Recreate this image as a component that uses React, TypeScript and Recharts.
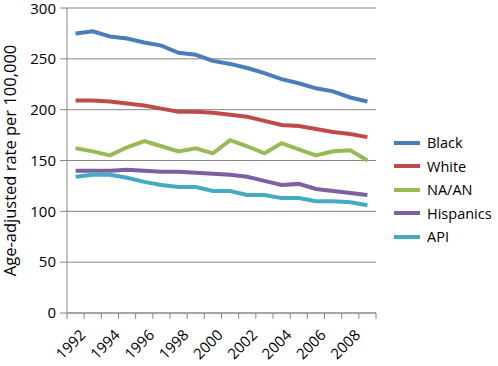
import React from 'react';
import { LineChart, Line, XAxis, YAxis, CartesianGrid, Legend } from 'recharts';

// ── Data ─────────────────────────────────────────────────────────────────────

const YEARS = [1992, 1993, 1994, 1995, 1996, 1997, 1998, 1999, 2000, 2001, 2002, 2003, 2004, 2005, 2006, 2007, 2008, 2009];
const BLACK = [275, 277, 272, 270, 266, 263, 256, 254, 248, 245, 241, 236, 230, 226, 221, 218, 212, 208];
const WHITE = [209, 209, 208, 206, 204, 201, 198, 198, 197, 195, 193, 189, 185, 184, 181, 178, 176, 173];
const NAAN = [162, 159, 155, 163, 169, 164, 159, 162, 157, 170, 164, 157, 167, 161, 155, 159, 160, 150];
const HISPANICS = [140, 140, 140, 141, 140, 139, 139, 138, 137, 136, 134, 130, 126, 127, 122, 120, 118, 116];
const API = [134, 136, 136, 133, 129, 126, 124, 124, 120, 120, 116, 116, 113, 113, 110, 110, 109, 106];

const Y_TICKS = [0, 50, 100, 150, 200, 250, 300];
const X_LABELS = [1992, 1994, 1996, 1998, 2000, 2002, 2004, 2006, 2008];

const SERIES = [
  { key: 'black', name: 'Black', color: '#4A7EBB' },
  { key: 'white', name: 'White', color: '#BE4B48' },
  { key: 'naan', name: 'NA/AN', color: '#98B954' },
  { key: 'hisp', name: 'Hispanics', color: '#7D60A0' },
  { key: 'api', name: 'API', color: '#46AAC5' },
];

const rows = YEARS.map((year, i) => ({
  year,
  black: BLACK[i],
  white: WHITE[i],
  naan: NAAN[i],
  hisp: HISPANICS[i],
  api: API[i],
}));

// category boundaries, for Excel-style tick marks between categories
const BOUNDS = [...YEARS.map((y) => y - 0.5), YEARS[YEARS.length - 1] + 0.5];
const X_DOMAIN: [number, number] = [BOUNDS[0], BOUNDS[BOUNDS.length - 1]];

const FONT = '"Open Sans", sans-serif';
const AXIS_GREY = '#868686';

// Ticks sit on category boundaries; the label of the year to the right of
// a boundary is drawn half a category further on, rotated like Excel does.
function YearTick({
  x,
  y,
  width,
  payload,
}: {
  x: number;
  y: number;
  width?: number;
  payload: { value: number };
}) {
  const year = payload.value + 0.5;
  if (!X_LABELS.includes(year)) return <g />;
  const half = (width ?? 309) / YEARS.length / 2;
  return (
    <g transform={`translate(${x + half + 11},${y + 17})`}>
      <text x={0} y={0} textAnchor="end" transform="rotate(-45)" fontSize={15} fontFamily={FONT} fill="#000">
        {year}
      </text>
    </g>
  );
}

function LegendList({ payload }: { payload?: Array<{ value: string; color: string }> }) {
  // keep series order (Recharts would otherwise sort by name)
  const items = SERIES.map((s) => (payload ?? []).find((p) => p.value === s.name)).filter(Boolean) as Array<{
    value: string;
    color: string;
  }>;
  return (
    <div style={{ fontFamily: FONT, fontSize: 14.5, color: '#000' }}>
      {items.map((p) => (
        <div key={p.value} style={{ display: 'flex', alignItems: 'center', height: 23.5 }}>
          <span style={{ display: 'inline-block', width: 26, height: 4, background: p.color, marginRight: 7 }} />
          <span>{p.value}</span>
        </div>
      ))}
    </div>
  );
}

export default function App() {
  return (
    <div style={{ position: 'absolute', left: 0, top: 0, width: 498, height: 366, background: '#fff' }}>
      <LineChart
        width={498}
        height={366}
        data={rows}
        margin={{ top: 8, right: 18, bottom: 0, left: 0 }}
      >
        <CartesianGrid vertical={false} stroke={AXIS_GREY} strokeDasharray="" />
        <XAxis
          type="number"
          dataKey="year"
          domain={X_DOMAIN}
          ticks={BOUNDS}
          tick={YearTick as any}
          stroke={AXIS_GREY}
          tickSize={6}
          tickMargin={0}
          height={53}
          interval={0}
          allowDataOverflow
        />
        <YAxis
          type="number"
          domain={[0, 300]}
          ticks={Y_TICKS}
          width={67}
          stroke={AXIS_GREY}
          tickSize={7}
          tickMargin={4}
          tick={{ fontSize: 15, fill: '#000', fontFamily: FONT }}
          label={{
            value: 'Age-adjusted rate per 100,000',
            angle: -90,
            position: 'insideLeft',
            offset: 10,
            style: { textAnchor: 'middle', fontSize: 16.5, fill: '#000', fontFamily: FONT },
          }}
        />
        {SERIES.map((s) => (
          <Line
            key={s.key}
            type="linear"
            dataKey={s.key}
            name={s.name}
            stroke={s.color}
            strokeWidth={4}
            dot={false}
            isAnimationActive={false}
          />
        ))}
        <Legend
          layout="vertical"
          align="right"
          verticalAlign="middle"
          content={LegendList as any}
          wrapperStyle={{ position: 'absolute', left: 394, top: 131, width: 104 }}
        />
      </LineChart>
    </div>
  );
}
